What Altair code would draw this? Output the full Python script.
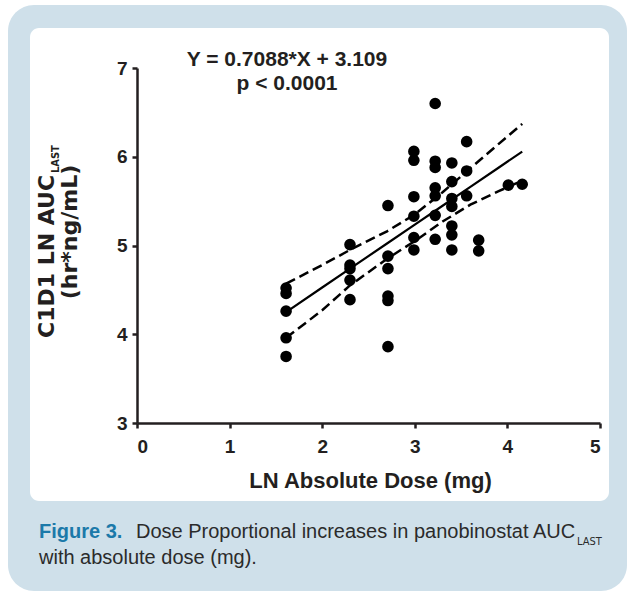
import altair as alt
import pandas as pd

# ---- data ----
dose_ln = [1.61]*5 + [2.30]*5 + [2.71]*6 + [2.99]*6 + [3.22]*7 + [3.40]*7 + [3.56]*3 + [3.69]*2 + [4.01] + [4.16]
auc_ln = [4.52, 4.46, 4.26, 3.96, 3.75,
          5.01, 4.78, 4.74, 4.61, 4.39,
          5.45, 4.88, 4.74, 4.43, 4.38, 3.86,
          6.06, 5.96, 5.55, 5.33, 5.09, 4.95,
          6.60, 5.95, 5.88, 5.65, 5.56, 5.34, 5.07,
          5.93, 5.72, 5.53, 5.44, 5.22, 5.12, 4.95,
          6.17, 5.84, 5.56,
          5.06, 4.94,
          5.68,
          5.69]

slope = 0.7088
intercept = 3.109
band_x = [1.61, 2.0, 2.3, 2.7, 3.0, 3.3, 3.6, 3.9, 4.16]
band_upper = [4.57, 4.78, 4.95, 5.16, 5.35, 5.60, 5.87, 6.14, 6.37]
band_lower = [3.96, 4.27, 4.55, 4.85, 5.05, 5.27, 5.46, 5.61, 5.73]
fit_y = [slope * x + intercept for x in band_x]

x_ticks = [0, 1, 2, 3, 4, 5]
y_ticks = [3, 4, 5, 6, 7]

pts = pd.DataFrame({"x": dose_ln, "y": auc_ln})
bands = pd.DataFrame({"x": band_x, "fit": fit_y, "up": band_upper, "lo": band_lower})
one = pd.DataFrame({"a": [0]})

W, H = 463, 355
BLUE_BG = "#cfe0ea"
INK = "#231f20"
NARROW = "Liberation Sans Narrow, DejaVu Sans Condensed, Liberation Sans"

xs = alt.Scale(domain=[0, 5], nice=False, zero=False)
ys = alt.Scale(domain=[3, 7], nice=False, zero=False)

xaxis = alt.Axis(values=x_ticks, format="d", title=None, labelFont="Liberation Sans",
                 labelFontSize=19, labelFontWeight="bold", labelColor=INK,
                 domainColor=INK, domainWidth=2.5, tickColor=INK, tickWidth=2.5,
                 tickSize=5, labelPadding=9, grid=False, zindex=1)
yaxis = alt.Axis(values=y_ticks, format="d", title=None, labelFont="Liberation Sans",
                 labelFontSize=19, labelFontWeight="bold", labelColor=INK,
                 domainColor=INK, domainWidth=2.5, tickColor=INK, tickWidth=2.5,
                 tickSize=5, labelPadding=5, grid=False, zindex=1)

frame = alt.Chart(one).mark_rect(color=BLUE_BG, cornerRadius=26).encode(
    x=alt.value(8 - 137), x2=alt.value(627 - 137),
    y=alt.value(5 - 68), y2=alt.value(591 - 68))
panel = alt.Chart(one).mark_rect(color="white", cornerRadius=9).encode(
    x=alt.value(30 - 137), x2=alt.value(609 - 137),
    y=alt.value(28 - 68), y2=alt.value(501 - 68))

points = alt.Chart(pts).mark_circle(size=135, color="black", opacity=1).encode(
    x=alt.X("x:Q", scale=xs, axis=xaxis),
    y=alt.Y("y:Q", scale=ys, axis=yaxis))

fit = alt.Chart(bands).mark_line(color="black", strokeWidth=2.2).encode(
    x=alt.X("x:Q", scale=xs), y=alt.Y("fit:Q", scale=ys))
up = alt.Chart(bands).mark_line(color="black", strokeWidth=2.5, strokeDash=[10, 5]).encode(
    x=alt.X("x:Q", scale=xs), y=alt.Y("up:Q", scale=ys))
lo = alt.Chart(bands).mark_line(color="black", strokeWidth=2.5, strokeDash=[10, 5]).encode(
    x=alt.X("x:Q", scale=xs), y=alt.Y("lo:Q", scale=ys))


def txt(s, px, py, size, weight="normal", color=INK, font="Liberation Sans",
        align="left", angle=0, baseline="alphabetic"):
    kw = dict(text=s, font=font, fontSize=size, fontWeight=weight, color=color,
              align=align, baseline=baseline)
    if angle:
        kw["angle"] = angle
    return alt.Chart(one).mark_text(**kw).encode(x=alt.value(px), y=alt.value(py))


texts = [
    txt("Y = 0.7088*X + 3.109", 150, -2, 21, "bold", align="center"),
    txt("p < 0.0001", 150, 22, 21, "bold", align="center"),
    txt("LN Absolute Dose (mg)", W / 2 + 2, 420, 22, "bold", align="center"),
    txt("C1D1 LN AUC", 54 - 137, 338 - 68, 22, "bold", font="DejaVu Sans", angle=270),
    txt("LAST", 59 - 137, 173 - 68, 11, "bold", font=NARROW, angle=270),
    txt("(hr*ng/mL)", 77 - 137, 232 - 68, 22, "bold", font="DejaVu Sans", align="center", angle=270),
    txt("Figure 3.", 39 - 137, 470, 20, "bold", color="#1b79a9"),
    txt("Dose Proportional increases in panobinostat AUC", 136 - 137, 470, 20, color="#2b2b2b"),
    txt("LAST", 577 - 137, 477, 11, color="#2b2b2b", font=NARROW),
    txt("with absolute dose (mg).", 39 - 137, 496, 20, color="#2b2b2b"),
]

chart = alt.layer(frame, panel, fit, up, lo, points, *texts).properties(
    width=W, height=H,
    autosize=alt.AutoSizeParams(type="none"),
    padding={"left": 137, "top": 68, "right": 27, "bottom": 168},
    background="white",
).configure_view(strokeWidth=0)

chart.save("out.html", embed_options={"renderer": "svg", "actions": False})
